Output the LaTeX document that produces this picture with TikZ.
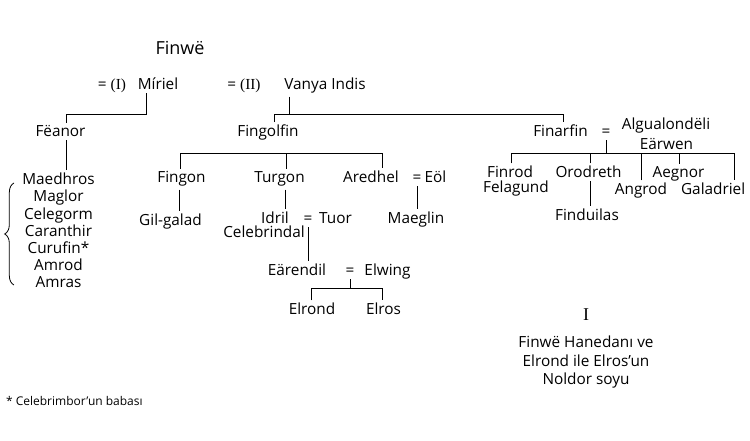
\documentclass[tikz,border=0pt]{standalone}
\usepackage{fontspec}
\setmainfont{Open Sans}
\newfontfamily\romfont{Liberation Serif}
\usetikzlibrary{decorations.pathreplacing}
\tikzset{kin/.style={font=\fontsize{11.5}{12.9}\selectfont, inner sep=2pt, anchor=base}}
\tikzset{every path/.append style={line width=0.6pt}}

\begin{document}
\begin{tikzpicture}[x=0.75pt,y=-0.75pt]
\useasboundingbox (0,0) rectangle (750,441);
\node[kin,font=\fontsize{13.5}{16}\selectfont] (finwe) at (180,55) {Finwë};
\node[kin] (eqI) at (112,90) {= \romfont(I)};
\node[kin] (miriel) at (158,90) {Míriel};
\node[kin] (eqII) at (244,90) {= \romfont(II)};
\node[kin] (vanya) at (325,90) {Vanya Indis};
\node[kin] (feanor) at (60.5,137) {Fëanor};
\node[kin] (fingolfin) at (268,137) {Fingolfin};
\node[kin] (finarfin) at (560.5,137) {Finarfin};
\node[kin] (eqfin) at (606,137) {=};
\node[kin] (algua) at (666,130) {Algualondëli};
\node[kin] (earwen) at (666.5,150) {Eärwen};
\node[kin,align=center] (sons) at (58.5,288) {Maedhros\\Maglor\\Celegorm\\Caranthir\\Curufin*\\Amrod\\Amras};
\node[kin] (fingon) at (181.5,183) {Fingon};
\node[kin] (turgon) at (279.5,183) {Turgon};
\node[kin] (aredhel) at (371,183) {Aredhel};
\node[kin] (eqeol) at (417,183) {=};
\node[kin] (eol) at (435.5,183) {Eöl};
\node[kin] (gilgalad) at (170.5,226) {Gil-galad};
\node[kin] (idril) at (275,224) {Idril};
\node[kin] (celebrindal) at (264,238) {Celebrindal};
\node[kin] (eqtuor) at (308,224) {=};
\node[kin] (tuor) at (335.5,224) {Tuor};
\node[kin] (maeglin) at (416,224) {Maeglin};
\node[kin] (earendil) at (297,276) {Eärendil};
\node[kin] (eqelw) at (350,276) {=};
\node[kin] (elwing) at (387.5,276) {Elwing};
\node[kin] (elrond) at (312,315) {Elrond};
\node[kin] (elros) at (383.5,315) {Elros};
\node[kin] (finrod) at (510,178) {Finrod};
\node[kin] (felagund) at (516,193) {Felagund};
\node[kin] (orodreth) at (588.5,178) {Orodreth};
\node[kin] (angrod) at (641,195) {Angrod};
\node[kin] (aegnor) at (678.5,178) {Aegnor};
\node[kin,anchor=base west] (galadriel) at (678,195) {Galadriel};
\node[kin] (finduilas) at (587,221) {Finduilas};
\node[kin,font=\romfont\fontsize{13.5}{15}\selectfont] (plate) at (586,321) {I};
\node[kin,align=center,font=\fontsize{11.5}{13.9}\selectfont] (caption) at (586,385) {Finwë Hanedanı ve\\Elrond ile Elros’un\\Noldor soyu};
\node[kin,anchor=base west,font=\fontsize{9}{11}\selectfont] (note) at (3,406) {* Celebrimbor’un babası};
\draw (miriel.south -| 146,0) -- (146,114) -| (feanor.north -| 66,0);
\draw (feanor.south -| 66,0) -- (sons.north -| 66,0);
\draw (vanya.south -| 289,0) -- (289,114);
\draw (fingolfin.north -| 274,0) |- (563,114) -- (finarfin.north -| 563,0);
\draw (fingon.north -| 180,0) |- (382,153) -- (aredhel.north -| 382,0);
\draw (turgon.north -| 286,0) -- (286,153);
\draw (fingon.south -| 179,0) -- (gilgalad.north -| 179,0);
\draw (turgon.south -| 285,0) -- (idril.north -| 285,0);
\draw (eqeol.south) -- (eqeol.south |- maeglin.north);
\draw (eqtuor.south) -- (eqtuor.south |- earendil.north);
\draw (eqelw.south) -- (350,288);
\draw (elrond.north -| 311,0) |- (382,288) -- (elros.north -| 382,0);
\draw (eqfin.south) -- (606,153);
\draw (finrod.north -| 511,0) |- (734,153) -- (galadriel.north -| 734,0);
\draw (orodreth.north -| 590,0) -- (590,153);
\draw (angrod.north -| 641,0) -- (641,153);
\draw (aegnor.north -| 679,0) -- (679,153);
\draw (orodreth.south -| 590,0) -- (finduilas.north -| 590,0);
\draw[decorate,decoration={brace,amplitude=7pt}] (14,285) -- (14,183);
\end{tikzpicture}
\end{document}
